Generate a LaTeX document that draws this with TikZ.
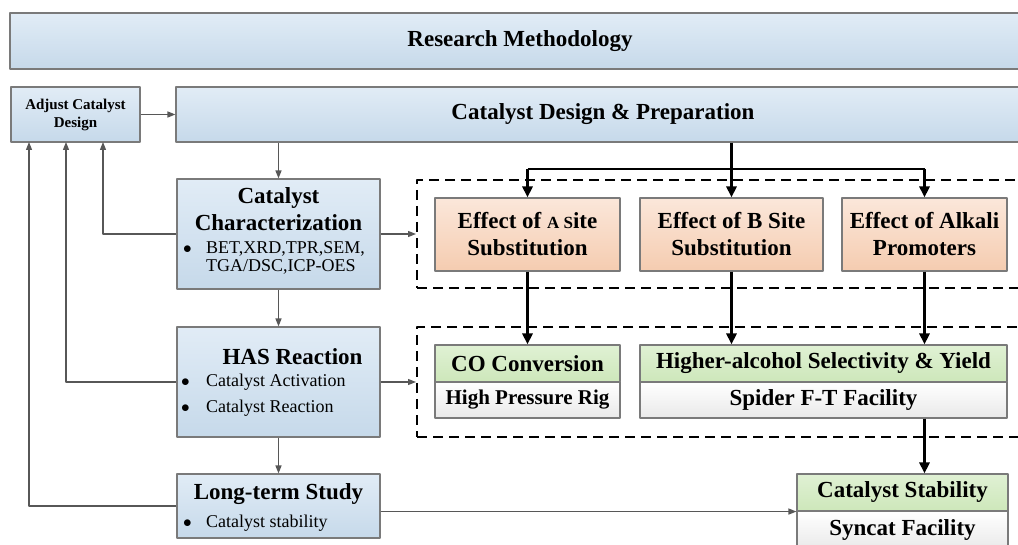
\documentclass[tikz,border=0pt]{standalone}
\usepackage{fontspec}
\setmainfont{Liberation Serif}
\usetikzlibrary{arrows.meta}
\definecolor{blueTop}{HTML}{E1ECF6}
\definecolor{blueBot}{HTML}{C6D9EA}
\definecolor{orTop}{HTML}{FBE7DA}
\definecolor{orBot}{HTML}{F5CCB0}
\definecolor{grTop}{HTML}{E0F1D4}
\definecolor{grBot}{HTML}{CDE7BA}
\definecolor{whBot}{HTML}{E9E9E9}
\definecolor{edgeGray}{HTML}{7A7A7A}
\definecolor{lineGray}{HTML}{575757}
\newcommand\hfont{\fontsize{23}{27}\selectfont\bfseries}
\newcommand\mfont{\fontsize{21}{25}\selectfont\bfseries}
\newcommand\afont{\fontsize{15}{18}\selectfont\bfseries}
\newcommand\lfont{\fontsize{18}{18}\selectfont}
\newcommand\bul[1]{\makebox[#1][l]{$\bullet$}}
\tikzset{
  blockbox/.style={draw=edgeGray,line width=1.1pt,inner sep=0pt,align=center},
  bluebox/.style={blockbox,top color=blueTop,bottom color=blueBot},
  orbox/.style={blockbox,top color=orTop,bottom color=orBot,minimum height=73pt,font=\hfont},
  grbox/.style={blockbox,top color=grTop,bottom color=grBot,minimum height=37pt,font=\hfont},
  whbox/.style={blockbox,top color=white,bottom color=whBot,minimum height=36pt},
  dashbox/.style={draw,line width=2pt,dash pattern=on 10pt off 6pt,inner sep=0pt},
  garrow/.style={draw=lineGray,line width=1.3pt,-{Triangle[length=8pt,width=6pt]}},
  gline/.style={draw=lineGray,line width=1.3pt},
  tarrow/.style={line width=2.8pt,-{Triangle[length=11pt,width=10pt]}},
  tline/.style={line width=2.8pt}
}
\begin{document}
\begin{tikzpicture}[x=1pt,y=-1pt,line join=round]
\path[use as bounding box] (0,0) rectangle (1018,545);
\clip (0,0) rectangle (1018,545);
% --- top row
\node[bluebox,minimum width=1020pt,minimum height=56pt,font=\hfont] (resm) at (520,41) {Research Methodology};
\node[bluebox,minimum width=129pt,minimum height=55pt,font=\afont] (adjust) at (75.5,114.5) {Adjust Catalyst\\Design};
\node[bluebox,minimum width=854pt,minimum height=55pt,font=\hfont] (design) at (603,114.5) {Catalyst Design \& Preparation};
% --- left column
\node[bluebox,minimum width=203pt,minimum height=110pt] (char) at (278.5,234) {};
\node[font=\hfont,align=center,inner sep=0pt] (charT) at (278.5,209) {Catalyst\\Characterization};
\node[font=\lfont,align=left,anchor=west,inner sep=0pt] (charL) at (183,258) {\bul{23pt}BET,XRD,TPR,SEM,\\\hspace*{23pt}TGA/DSC,ICP-OES};
\node[bluebox,minimum width=203pt,minimum height=110pt] (has) at (278.5,382) {};
\node[font=\hfont,inner sep=0pt] (hasT) at (292.5,357) {HAS Reaction};
\node[font=\fontsize{18}{26}\selectfont,align=left,anchor=west,inner sep=0pt] (hasL) at (181,395) {\bul{25pt}Catalyst Activation\\\bul{25pt}Catalyst Reaction};
\node[bluebox,minimum width=203pt,minimum height=64pt] (longt) at (278.5,506) {};
\node[font=\hfont,inner sep=0pt] (longT) at (278.5,494) {Long-term Study};
\node[font=\lfont,anchor=west,inner sep=0pt] (longL) at (183,523) {\bul{23pt}Catalyst stability};
% --- dashed groups
\node[dashbox,minimum width=613pt,minimum height=108pt] (grp1) at (723.5,234) {};
\node[dashbox,minimum width=613pt,minimum height=110pt] (grp2) at (723.5,382) {};
\node[orbox,minimum width=185pt] (effA) at (527.5,234.5) {Effect of {\fontsize{17}{20}\selectfont A S}ite\\Substitution};
\node[orbox,minimum width=183pt] (effB) at (731.5,234.5) {Effect of B Site\\Substitution};
\node[orbox,minimum width=165pt] (effK) at (924.5,234.5) {Effect of Alkali\\Promoters};
\node[grbox,minimum width=185pt] (coconv) at (527.5,363.5) {CO Conversion};
\node[whbox,minimum width=185pt,font=\mfont] (corig) at (527.5,400) {High Pressure Rig};
\node[grbox,minimum width=367pt] (halc) at (823.5,363.5) {Higher-alcohol Selectivity \& Yield};
\node[whbox,minimum width=367pt,font=\hfont] (spider) at (823.5,400) {Spider F-T Facility};
\node[grbox,minimum width=211pt] (stab) at (902.5,492.5) {Catalyst Stability};
\node[whbox,minimum width=211pt,minimum height=39pt,font=\hfont] (syncat) at (902.5,530.5) {Syncat Facility};
% --- thin connectors
\coordinate (fbC) at (103,142); \coordinate (fbH) at (66,142); \coordinate (fbL) at (29,142);
\draw[garrow] (adjust.east) -- (design.west);
\draw[garrow] (design.south -| char.north) -- (char.north);
\draw[garrow] (char.south) -- (has.north);
\draw[garrow] (has.south) -- (longt.north);
\draw[garrow] (char.west) -| (fbC);
\draw[garrow] (has.west) -| (fbH);
\draw[garrow] (longt.west) -| (fbL);
\draw[garrow] (char.east) -- (char.east -| grp1.west);
\draw[garrow] (has.east) -- (has.east -| grp2.west);
\draw[garrow] (longt.east |- stab.south west) -- (stab.south west);
% --- thick connectors
\coordinate (bus) at (0,169);
\draw[tline] (effA.north |- bus) -- (effK.north |- bus);
\draw[tarrow] (design.south -| effB.north) -- (effB.north);
\draw[tarrow] (effA.north |- bus) -- (effA.north);
\draw[tarrow] (effK.north |- bus) -- (effK.north);
\draw[tarrow] (effA.south) -- (coconv.north);
\draw[tarrow] (effB.south) -- (effB.south |- halc.north);
\draw[tarrow] (effK.south) -- (effK.south |- halc.north);
\draw[tarrow] (spider.south -| effK.south) -- (stab.north -| effK.south);
\end{tikzpicture}
\end{document}
